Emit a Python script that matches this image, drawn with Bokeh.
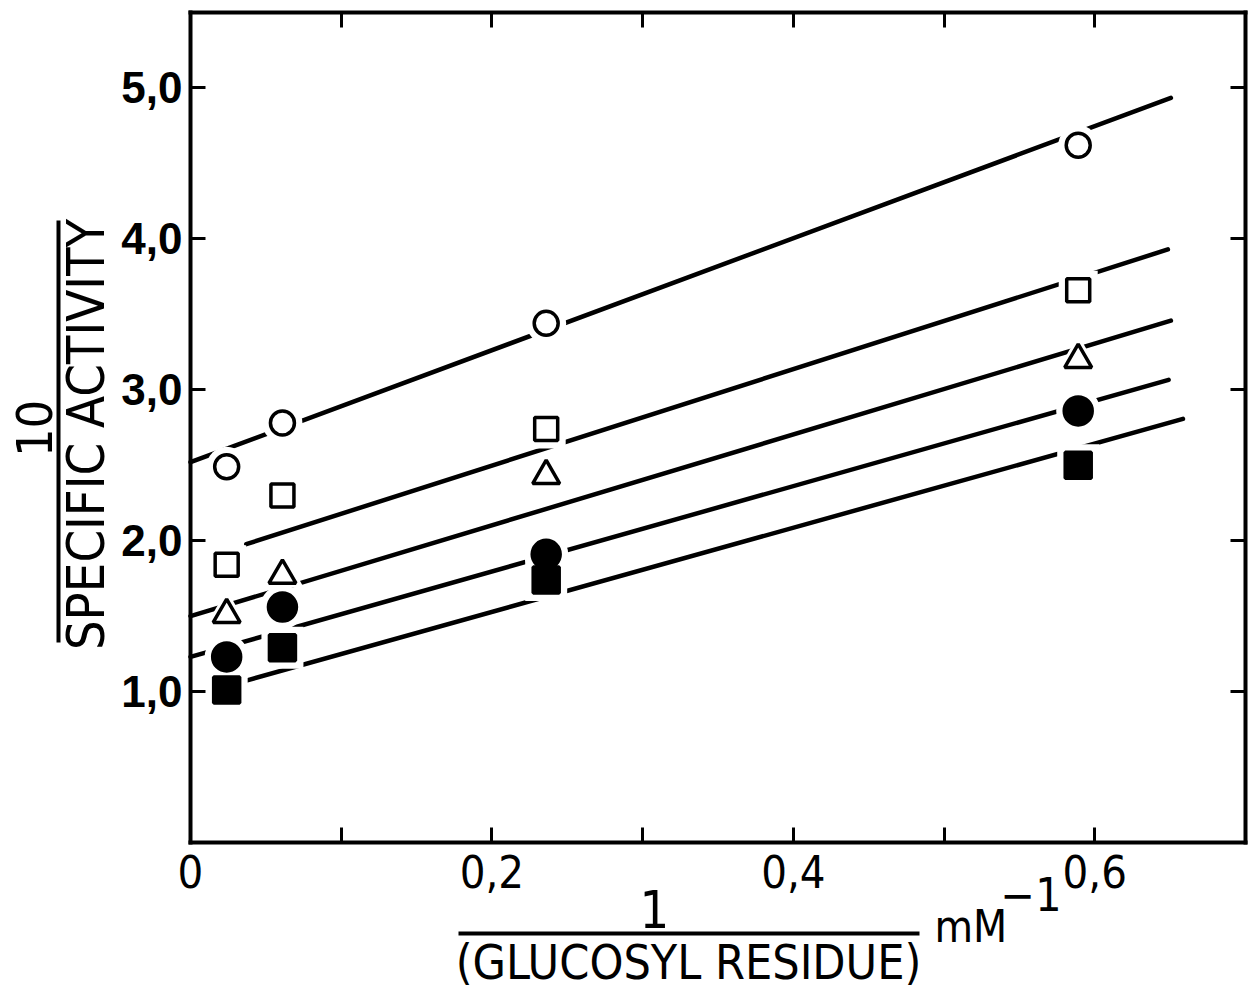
import math

from bokeh.embed import file_html
from bokeh.models import (BoxAnnotation, ColumnDataSource, FixedTicker, Label,
                          LinearAxis, Range1d)
from bokeh.plotting import figure
from bokeh.resources import INLINE

# 1 / (glucosyl residue), mM^-1
inv_glucosyl = [0.024, 0.061, 0.236, 0.589]

# 10 / specific activity for each series
open_circle = [2.49, 2.78, 3.44, 4.62]
open_square = [1.84, 2.30, 2.74, 3.66]
open_triangle = [1.51, 1.77, 2.43, 3.20]
filled_circle = [1.23, 1.56, 1.91, 2.86]
filled_square = [1.01, 1.29, 1.74, 2.50]

# fitted straight lines: start and end points (x0, y0, x1, y1)
fit_x0 = [0.0, 0.037, 0.0, 0.0, 0.037]
fit_y0 = [2.52, 1.977, 1.50, 1.23, 1.073]
fit_x1 = [0.6505, 0.6485, 0.6505, 0.649, 0.6585]
fit_y1 = [4.934, 3.930, 3.458, 3.066, 2.807]

x_ticks = [0, 0.1, 0.2, 0.3, 0.4, 0.5, 0.6, 0.7]
x_tick_labels = ["0", "", "0,2", "", "0,4", "", "0,6", ""]
y_ticks = [1, 2, 3, 4, 5]
y_tick_labels = ["1,0", "2,0", "3,0", "4,0", "5,0"]

X_MIN, X_MAX = 0.0, 0.7
Y_MIN, Y_MAX = 0.0, 5.5

NARROW = "Liberation Sans Narrow, DejaVu Sans Condensed, Roboto Condensed, sans-serif"
REGULAR = "Liberation Sans, Arial, sans-serif"

W, H = 1254, 997
# plot box inside the page (pixels): left, right, top, bottom
BOX_L, BOX_R, BOX_T, BOX_B = 190, 1245, 12, 842
sx_per = (BOX_R - BOX_L) / (X_MAX - X_MIN)
sy_per = (BOX_B - BOX_T) / (Y_MAX - Y_MIN)

# the drawing area spans the whole page; the axes sit at fixed data positions
p = figure(width=W, height=H, output_backend="svg", toolbar_location=None,
           x_range=Range1d(X_MIN - BOX_L / sx_per, X_MAX + (W - BOX_R) / sx_per),
           y_range=Range1d(Y_MIN - (H - BOX_B) / sy_per, Y_MAX + BOX_T / sy_per),
           min_border=0, x_axis_type=None, y_axis_type=None)
p.grid.visible = False
p.outline_line_color = None
p.background_fill_color = "white"
p.border_fill_color = "white"


def style_axis(ax, ticks, labels, location, bounds):
    ax.fixed_location = location
    ax.bounds = bounds
    ax.ticker = FixedTicker(ticks=ticks, minor_ticks=[])
    ax.axis_line_width = 4
    ax.axis_line_color = "black"
    ax.axis_line_cap = "square"
    ax.major_tick_line_width = 3
    ax.major_tick_line_color = "black"
    ax.major_tick_in = 15
    ax.major_tick_out = 0
    ax.minor_tick_line_color = None
    ax.major_label_text_color = "black"
    if labels is None:
        ax.major_label_overrides = {t: "" for t in ticks}
        ax.major_label_text_font_size = "0px"
        ax.major_label_standoff = 0
    else:
        ax.major_label_overrides = {t: s for t, s in zip(ticks, labels)}


bottom = LinearAxis()
style_axis(bottom, x_ticks, x_tick_labels, Y_MIN, (X_MIN, X_MAX))
bottom.major_label_text_font = NARROW
bottom.major_label_text_font_size = "45px"
bottom.major_label_standoff = 12
p.add_layout(bottom, "below")

left = LinearAxis()
style_axis(left, y_ticks, y_tick_labels, X_MIN, (Y_MIN, Y_MAX))
left.major_label_text_font = REGULAR
left.major_label_text_font_style = "bold"
left.major_label_text_font_size = "44px"
left.major_label_standoff = 8
p.add_layout(left, "left")

top = LinearAxis()
style_axis(top, x_ticks[1:-1], None, Y_MAX, (X_MIN, X_MAX))
p.add_layout(top, "above")

right = LinearAxis()
style_axis(right, y_ticks, None, X_MAX, (Y_MIN, Y_MAX))
p.add_layout(right, "right")

# fitted lines
p.segment(x0=fit_x0, y0=fit_y0, x1=fit_x1, y1=fit_y1, line_color="black",
          line_width=4.5, line_cap="round")

series = [
    (open_circle, "circle", 24, "white"),
    (open_square, "square", 23, "white"),
    (open_triangle, "triangle", 27, "white"),
    (filled_circle, "circle", 28, "black"),
    (filled_square, "square", 26, "black"),
]

# white halos break the lines around each point
for ys, marker, size, fill in series:
    p.scatter(x=inv_glucosyl, y=ys, marker=marker, size=size + 16,
              fill_color="white", line_color=None)

for ys, marker, size, fill in series:
    src = ColumnDataSource(dict(x=inv_glucosyl, y=ys))
    p.scatter(x="x", y="y", source=src, marker=marker, size=size,
              fill_color=fill, line_color="black", line_width=3.5)


def text(x, y, s, size, align="center", baseline="middle", angle=0.0):
    # x from the page's left edge, y from the page's bottom edge
    p.add_layout(Label(x=x, y=y, x_units="screen", y_units="screen", text=s,
                       angle=angle, text_align=align, text_baseline=baseline,
                       text_font=NARROW, text_font_size=size,
                       text_color="black"))


def bar(l, r, b, t):
    p.add_layout(BoxAnnotation(left=l, right=r, bottom=b, top=t,
                               left_units="screen", right_units="screen",
                               bottom_units="screen", top_units="screen",
                               fill_color="black", fill_alpha=1,
                               line_color=None, level="overlay"))


# y-axis title: 10 / SPECIFIC ACTIVITY
text(33, 569, "10", "50px", angle=math.pi / 2)
bar(56, 60, 355, 777)
text(85, 563, "SPECIFIC ACTIVITY", "52px", angle=math.pi / 2)

# x-axis title: 1 / (GLUCOSYL RESIDUE) mM^-1
text(654, 89, "1", "52px")
bar(458, 919, 62, 66)
text(688, 36, "(GLUCOSYL RESIDUE)", "48px")
text(934, 71, "mM", "44px", align="left", baseline="alphabetic")
text(1000, 104, "\u22121", "46px", align="left", baseline="alphabetic")

open("out.html", "w").write(file_html(p, INLINE))
